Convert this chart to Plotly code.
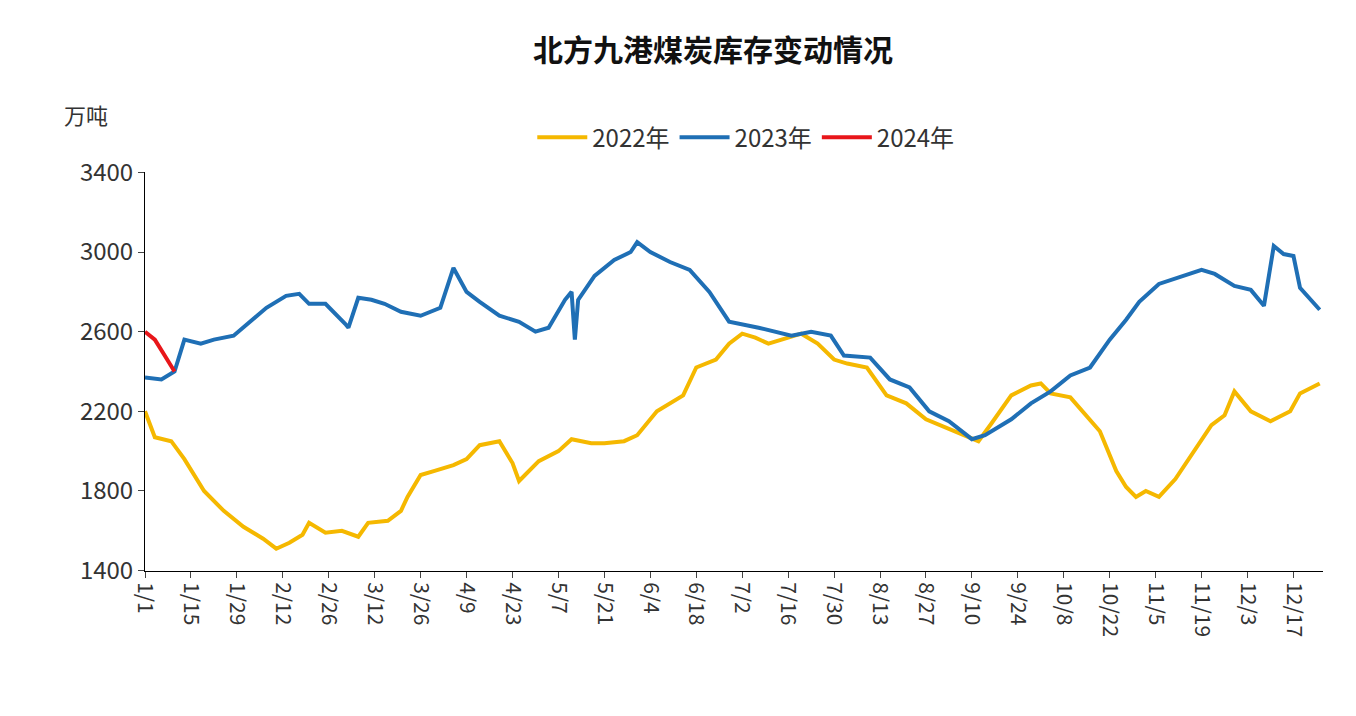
import plotly.graph_objects as go

# day index from 1/1
tick_days = list(range(0, 351, 14))
tick_labels = ["1/1", "1/15", "1/29", "2/12", "2/26", "3/12", "3/26", "4/9", "4/23",
               "5/7", "5/21", "6/4", "6/18", "7/2", "7/16", "7/30", "8/13", "8/27",
               "9/10", "9/24", "10/8", "10/22", "11/5", "11/19", "12/3", "12/17"]
y_ticks = [1400, 1800, 2200, 2600, 3000, 3400]

days_2022 = [0, 3, 8, 12, 18, 24, 30, 36, 40, 44, 48, 50, 55, 60, 65, 68, 74, 78, 80, 84,
             88, 94, 98, 102, 108, 112, 114, 120, 126, 130, 136, 140, 146, 150, 156, 160,
             164, 168, 174, 178, 182, 186, 190, 196, 200, 205, 210, 214, 220, 226, 232,
             238, 244, 250, 254, 258, 264, 270, 273, 276, 282, 291, 296, 299, 302, 305,
             309, 314, 319, 325, 329, 332, 337, 343, 349, 352, 358]
vals_2022 = [2200, 2070, 2050, 1960, 1800, 1700, 1620, 1560, 1510, 1540, 1580, 1640, 1590,
             1600, 1570, 1640, 1650, 1700, 1770, 1880, 1900, 1930, 1960, 2030, 2050, 1940,
             1850, 1950, 2000, 2060, 2040, 2040, 2050, 2080, 2200, 2240, 2280, 2420, 2460,
             2540, 2590, 2570, 2540, 2570, 2590, 2540, 2460, 2440, 2420, 2280, 2240, 2160,
             2120, 2080, 2050, 2140, 2280, 2330, 2340, 2290, 2270, 2100, 1900, 1820, 1770,
             1800, 1770, 1860, 1980, 2130, 2180, 2300, 2200, 2150, 2200, 2290, 2340]

days_2023 = [0, 5, 9, 12, 17, 21, 27, 32, 37, 43, 47, 50, 55, 61, 62, 65, 69, 73, 78, 84,
             90, 94, 98, 102, 108, 114, 119, 123, 128, 130, 131, 132, 137, 143, 148, 150,
             154, 160, 166, 172, 178, 187, 197, 203, 209, 213, 221, 227, 233, 239, 245,
             252, 256, 264, 270, 276, 282, 288, 294, 299, 303, 309, 316, 322, 326, 332,
             337, 341, 344, 347, 350, 352, 358]
vals_2023 = [2370, 2360, 2400, 2560, 2540, 2560, 2580, 2650, 2720, 2780, 2790, 2740, 2740,
             2640, 2620, 2770, 2760, 2740, 2700, 2680, 2720, 2920, 2800, 2750, 2680, 2650,
             2600, 2620, 2760, 2800, 2560, 2760, 2880, 2960, 3000, 3050, 3000, 2950, 2910,
             2800, 2650, 2620, 2580, 2600, 2580, 2480, 2470, 2360, 2320, 2200, 2150, 2060,
             2080, 2160, 2240, 2300, 2380, 2420, 2560, 2660, 2750, 2840, 2880, 2910, 2890,
             2830, 2810, 2730, 3030, 2990, 2980, 2820, 2710]

days_2024 = [0, 3, 6, 9]
vals_2024 = [2600, 2560, 2480, 2400]

fig = go.Figure()
fig.add_trace(go.Scatter(x=days_2022, y=vals_2022, name="2022年", mode="lines",
                         line=dict(color="#F5B800", width=4)))
fig.add_trace(go.Scatter(x=days_2023, y=vals_2023, name="2023年", mode="lines",
                         line=dict(color="#1F6FB5", width=4)))
fig.add_trace(go.Scatter(x=days_2024, y=vals_2024, name="2024年", mode="lines",
                         line=dict(color="#E8161A", width=4)))

fig.update_layout(
    width=1356, height=716,
    paper_bgcolor="white", plot_bgcolor="white",
    font=dict(family="Noto Sans CJK SC", size=22, color="#333"),
    title=dict(text="<b>北方九港煤炭库存变动情况</b>", x=0.52, y=0.955,
               font=dict(size=30, color="#111")),
    margin=dict(l=137, r=41, t=164, b=153),
    legend=dict(orientation="h", x=0.51, xanchor="center", y=1.03, yanchor="bottom",
                font=dict(size=24), itemwidth=50),
    annotations=[dict(text="万吨", xref="paper", yref="paper", x=-0.05, y=1.1,
                      xanchor="center", yanchor="bottom", showarrow=False,
                      font=dict(size=22))],
)
fig.update_xaxes(range=[0, 359], tickvals=tick_days, ticktext=tick_labels,
                 tickangle=90, showgrid=False, showline=True, linecolor="black",
                 ticks="outside", ticklen=6, tickfont=dict(size=21))
fig.update_yaxes(range=[1398, 3402], tickvals=y_ticks, showgrid=False, showline=True,
                 linecolor="black", ticks="outside", ticklen=6, tickfont=dict(size=24))

fig.write_html("out.html")
